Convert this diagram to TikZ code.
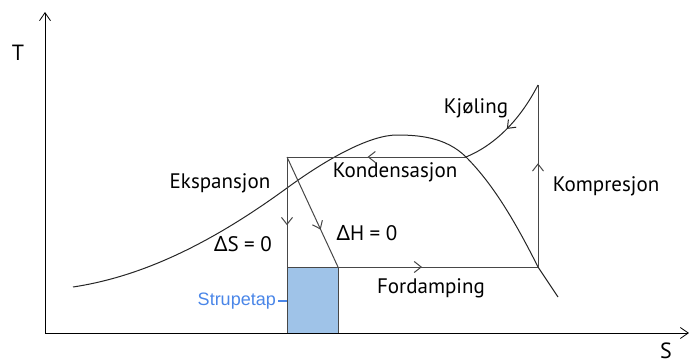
\documentclass[tikz,border=0pt]{standalone}
\usepackage{fontspec}
\setmainfont{PT Sans}
\newfontfamily\grkfont{Noto Sans}
\newfontfamily\lblfont{Liberation Sans}
\usetikzlibrary{arrows.meta,decorations.markings}
\definecolor{tapfill}{HTML}{9FC3E8}
\definecolor{tapblue}{HTML}{4A86E8}
\tikzset{
  axisln/.style={-{Straight Barb[length=8pt,width=11pt]},line width=0.8pt},
  cyc/.style={line width=1pt,black!72},
  satcurve/.style={line width=1pt,black!85},
  midarr/.style={postaction={decorate},decoration={markings,
      mark=at position #1 with {\arrow{Straight Barb[length=7pt,width=11pt]}}}}, % arrow on the path
  lbl/.style={font=\fontsize{21}{23}\selectfont,inner sep=0pt},
}
\newcommand{\Dl}{{\grkfont Δ}}

\begin{document}
\begin{tikzpicture}[x=1pt,y=-1pt]
  \useasboundingbox (0,0) rectangle (689,364);
  % axes
  \coordinate (O) at (45,333);
  \coordinate (Ttip) at (45,12);
  \coordinate (Stip) at (689,333);
  \draw[axisln] (O)--(Ttip);
  \draw[axisln] (O)--(Stip);
  \node[lbl,font=\fontsize{22}{24}\selectfont] (T) at (18,53) {T};
  \node[lbl,font=\fontsize{22}{24}\selectfont] (S) at (666,351) {S};
  % cycle corners
  \coordinate (kA) at (287,157);
  \coordinate (kB) at (338,267);
  \coordinate (kC) at (538,267);
  \coordinate (kD) at (538,85);
  \coordinate (kE) at (466,157);
  \coordinate (kF) at (287,267);
  \coordinate (kG) at (287,333);
  \coordinate (kH) at (338,333);
  % throttling loss
  \fill[tapfill] (kF) rectangle (kH);
  \draw[cyc] (kF)--(kG) (kB)--(kH) (kF)--(kB);
  % saturation dome
  \draw[satcurve] (73,287) .. controls (143,276.5) and (212,242.75) .. (287,188)
    .. controls (332,155.2) and (372,135) .. (397,135)
    .. controls (418,135) and (446,137) .. (kE)
    .. controls (491,182) and (513,217) .. (kC) -- (558,297);
  % cycle
  \draw[cyc,midarr=0.55] (kE)--(kA);
  \draw[cyc,midarr=0.62] (kA)--(kF);
  \draw[cyc,midarr=0.66] (kA)--(kB);
  \draw[cyc,midarr=0.42] (kB)--(kC);
  \draw[cyc,midarr=0.57] (kC)--(kD);
  \draw[satcurve,midarr=0.52] (kD) .. controls (520,120) and (495,145) .. (kE);
  % labels
  \node[lbl] (kjol) at (476,108) {Kjøling};
  \node[lbl] (kond) at (395,172) {Kondensasjon};
  \node[lbl] (eksp) at (220,183) {Ekspansjon};
  \node[lbl] (komp) at (606,186) {Kompresjon};
  \node[lbl] (ford) at (431,288) {Fordamping};
  \node[lbl] (dS) at (243,244) {\Dl S = 0};
  \node[lbl] (dH) at (367,233) {\Dl H = 0};
  \node[lbl,font=\lblfont\fontsize{18}{20}\selectfont,text=tapblue,anchor=east] (tap) at (276,301) {Strupetap};
  \draw[tapblue,line width=1.2pt] (tap.east)++(2,0) -- (kF |- tap.east);
\end{tikzpicture}
\end{document}
